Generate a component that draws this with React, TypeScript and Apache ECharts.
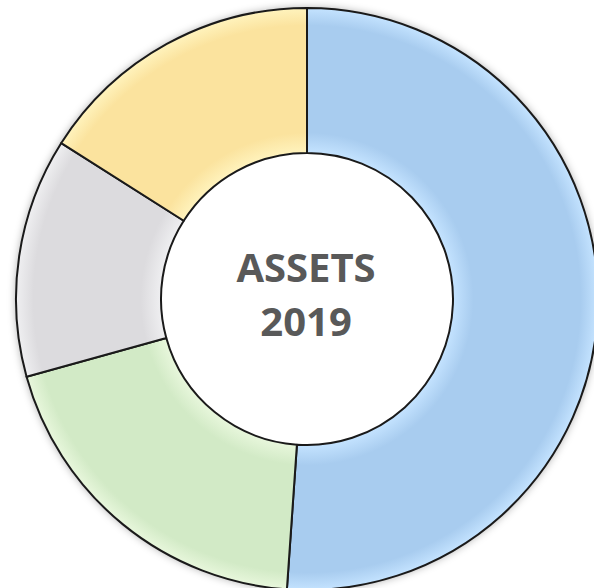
import React, { useEffect, useRef } from "react";
import * as echarts from "echarts";

const categories = ["Blue", "Green", "Gray", "Yellow"];
const values = [51.1, 19.6, 13.3, 16.0];
const baseColors = ["#A8CCEF", "#D2EAC6", "#DCDBDE", "#FBE39E"];
const lightColors = ["#C4E3FF", "#E8F7DC", "#EFEFF1", "#FFF3BD"];
const titleLines = ["ASSETS", "2019"];

const CX = 307;
const CY = 299;
const R_OUT = 291;
const R_IN = 146;

export default function App() {
  const ref = useRef<HTMLDivElement>(null);
  useEffect(() => {
    if (!ref.current) return;
    const chart = echarts.init(ref.current, null, { renderer: "svg" });
    const frac = R_IN / R_OUT;
    const data = categories.map((name, i) => ({
      name,
      value: values[i],
      itemStyle: {
        color: {
          type: "radial",
          x: CX,
          y: CY,
          r: R_OUT,
          global: true,
          colorStops: [
            { offset: 0, color: lightColors[i] },
            { offset: frac, color: lightColors[i] },
            { offset: frac + 0.07, color: baseColors[i] },
            { offset: 0.94, color: baseColors[i] },
            { offset: 1, color: lightColors[i] },
          ],
        },
      },
    }));
    chart.setOption({
      animation: false,
      backgroundColor: "#ffffff",
      series: [
        {
          type: "pie",
          z: 2,
          center: [CX, CY],
          radius: [R_IN, R_OUT],
          startAngle: 90,
          clockwise: true,
          label: { show: false },
          labelLine: { show: false },
          emphasis: { disabled: true },
          itemStyle: {
            borderColor: "#1a1a1a",
            borderWidth: 2,
          },
          data,
        },
      ],
      graphic: [
        {
          type: "circle",
          z: -10,
          shape: { cx: CX, cy: CY, r: R_OUT },
          style: {
            fill: "#ffffff",
            shadowBlur: 8,
            shadowColor: "rgba(0,0,0,0.35)",
          },
        },
        {
          type: "text",
          z: 10,
          x: 306,
          y: 266,
          style: {
            text: titleLines[0],
            fill: "#595959",
            font: "bold 40px 'Open Sans', sans-serif",
            align: "center",
            verticalAlign: "middle",
          },
        },
        {
          type: "text",
          z: 10,
          x: 306,
          y: 320,
          style: {
            text: titleLines[1],
            fill: "#595959",
            font: "bold 40px 'Open Sans', sans-serif",
            align: "center",
            verticalAlign: "middle",
          },
        },
      ],
    });
    return () => chart.dispose();
  }, []);
  return (
    <div
      ref={ref}
      style={{ position: "fixed", left: 0, top: 0, width: 594, height: 588 }}
    />
  );
}
